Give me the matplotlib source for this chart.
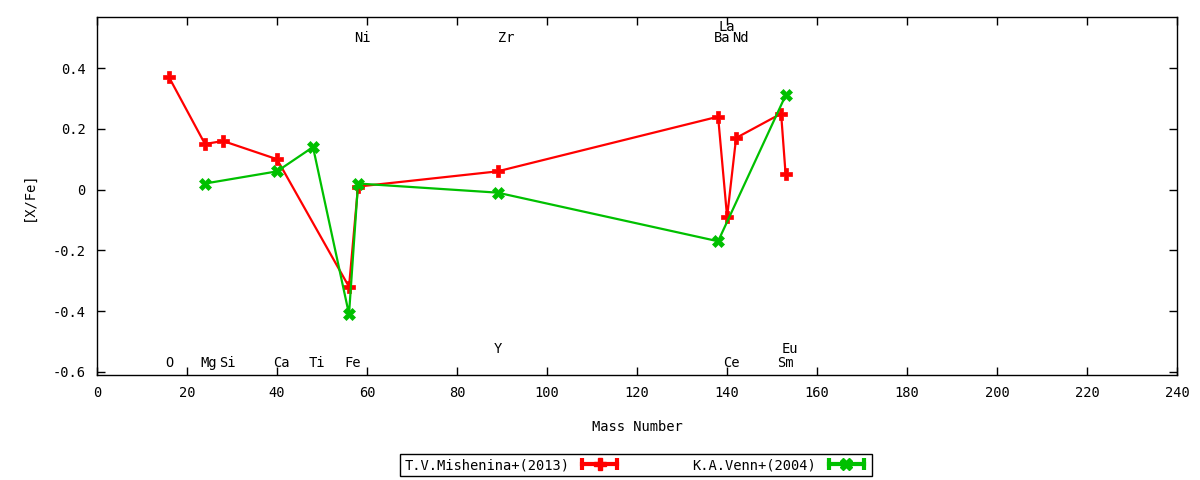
import matplotlib
matplotlib.use("Agg")
import matplotlib.pyplot as plt
from matplotlib.lines import Line2D
from matplotlib.legend_handler import HandlerLine2D, HandlerTuple
from matplotlib.ticker import MultipleLocator, FuncFormatter

plt.rcParams['font.family'] = ['DejaVu Sans Mono']
plt.rcParams['font.size'] = 9.9

# T.V.Mishenina+(2013)
mish_mass = [16, 24, 28, 40, 56, 58, 89, 138, 140, 142, 152, 153]
mish_xfe = [0.37, 0.15, 0.16, 0.10, -0.32, 0.01, 0.06, 0.24, -0.09, 0.17, 0.25, 0.05]

# K.A.Venn+(2004)
venn_mass = [24, 40, 48, 56, 58, 89, 138, 153]
venn_xfe = [0.02, 0.06, 0.14, -0.41, 0.02, -0.01, -0.17, 0.31]

# element labels
elements = ['O', 'Mg', 'Si', 'Ca', 'Ti', 'Fe', 'Ni', 'Y', 'Zr',
            'Ba', 'La', 'Ce', 'Nd', 'Sm', 'Eu']
elem_mass = [16, 24, 28, 40, 48, 56, 58, 89, 90, 138, 139, 140, 142, 152, 153]
elem_ypos = [-0.57, -0.57, -0.57, -0.57, -0.57, -0.57, 0.50, -0.525, 0.50,
             0.50, 0.535, -0.57, 0.50, -0.57, -0.525]

red = '#ff0000'
green = '#00c000'

fig = plt.figure(figsize=(12, 4.8), dpi=100)
ax = fig.add_axes([0.0808, 0.2188, 0.9002, 0.7458])

ax.plot(mish_mass, mish_xfe, color=red, lw=1.6, marker='P', ms=8.5,
        mec=red, mfc=red, mew=0.5)
ax.plot(venn_mass, venn_xfe, color=green, lw=1.6, marker='X', ms=8.5,
        mec=green, mfc=green, mew=0.5)

for el, m, yv in zip(elements, elem_mass, elem_ypos):
    ax.annotate(el, (m, yv), xytext=(-3, 0), textcoords='offset points',
                ha='left', va='center')

ax.set_xlim(0, 240)
ax.set_ylim(-0.61, 0.568)
ax.xaxis.set_major_locator(MultipleLocator(20))
ax.yaxis.set_major_locator(MultipleLocator(0.2))
ax.yaxis.set_major_formatter(FuncFormatter(lambda v, p: '%g' % round(v, 3)))
ax.tick_params(direction='in', top=True, right=True, length=6, width=1,
               pad=8)
for s in ax.spines.values():
    s.set_linewidth(1)

ax.set_xlabel('Mass Number', labelpad=14)
ax.set_ylabel('[X/Fe]', labelpad=12)

handles = []
handler_map = {}
for c, mk in [(red, 'P'), (green, 'X')]:
    caps = Line2D([], [], color=c, lw=3, marker='|', ms=9, mew=3)
    mid = Line2D([], [], color=c, lw=0, marker=mk, ms=8, mec=c, mfc=c)
    handler_map[caps] = HandlerLine2D(numpoints=2)
    handles.append((caps, mid))
handler_map[tuple] = HandlerTuple(ndivide=1, pad=0)

leg = fig.legend(handles, ['T.V.Mishenina+(2013)', 'K.A.Venn+(2004)'],
                 handler_map=handler_map, loc='center',
                 bbox_to_anchor=(0.53, 0.031), ncol=2, markerfirst=False,
                 fancybox=False, edgecolor='black', framealpha=1,
                 borderpad=0.3, borderaxespad=0, handlelength=3.1,
                 columnspacing=5.2, handletextpad=0.65)
leg.get_frame().set_linewidth(1)

fig.savefig('out.png', dpi=100)
